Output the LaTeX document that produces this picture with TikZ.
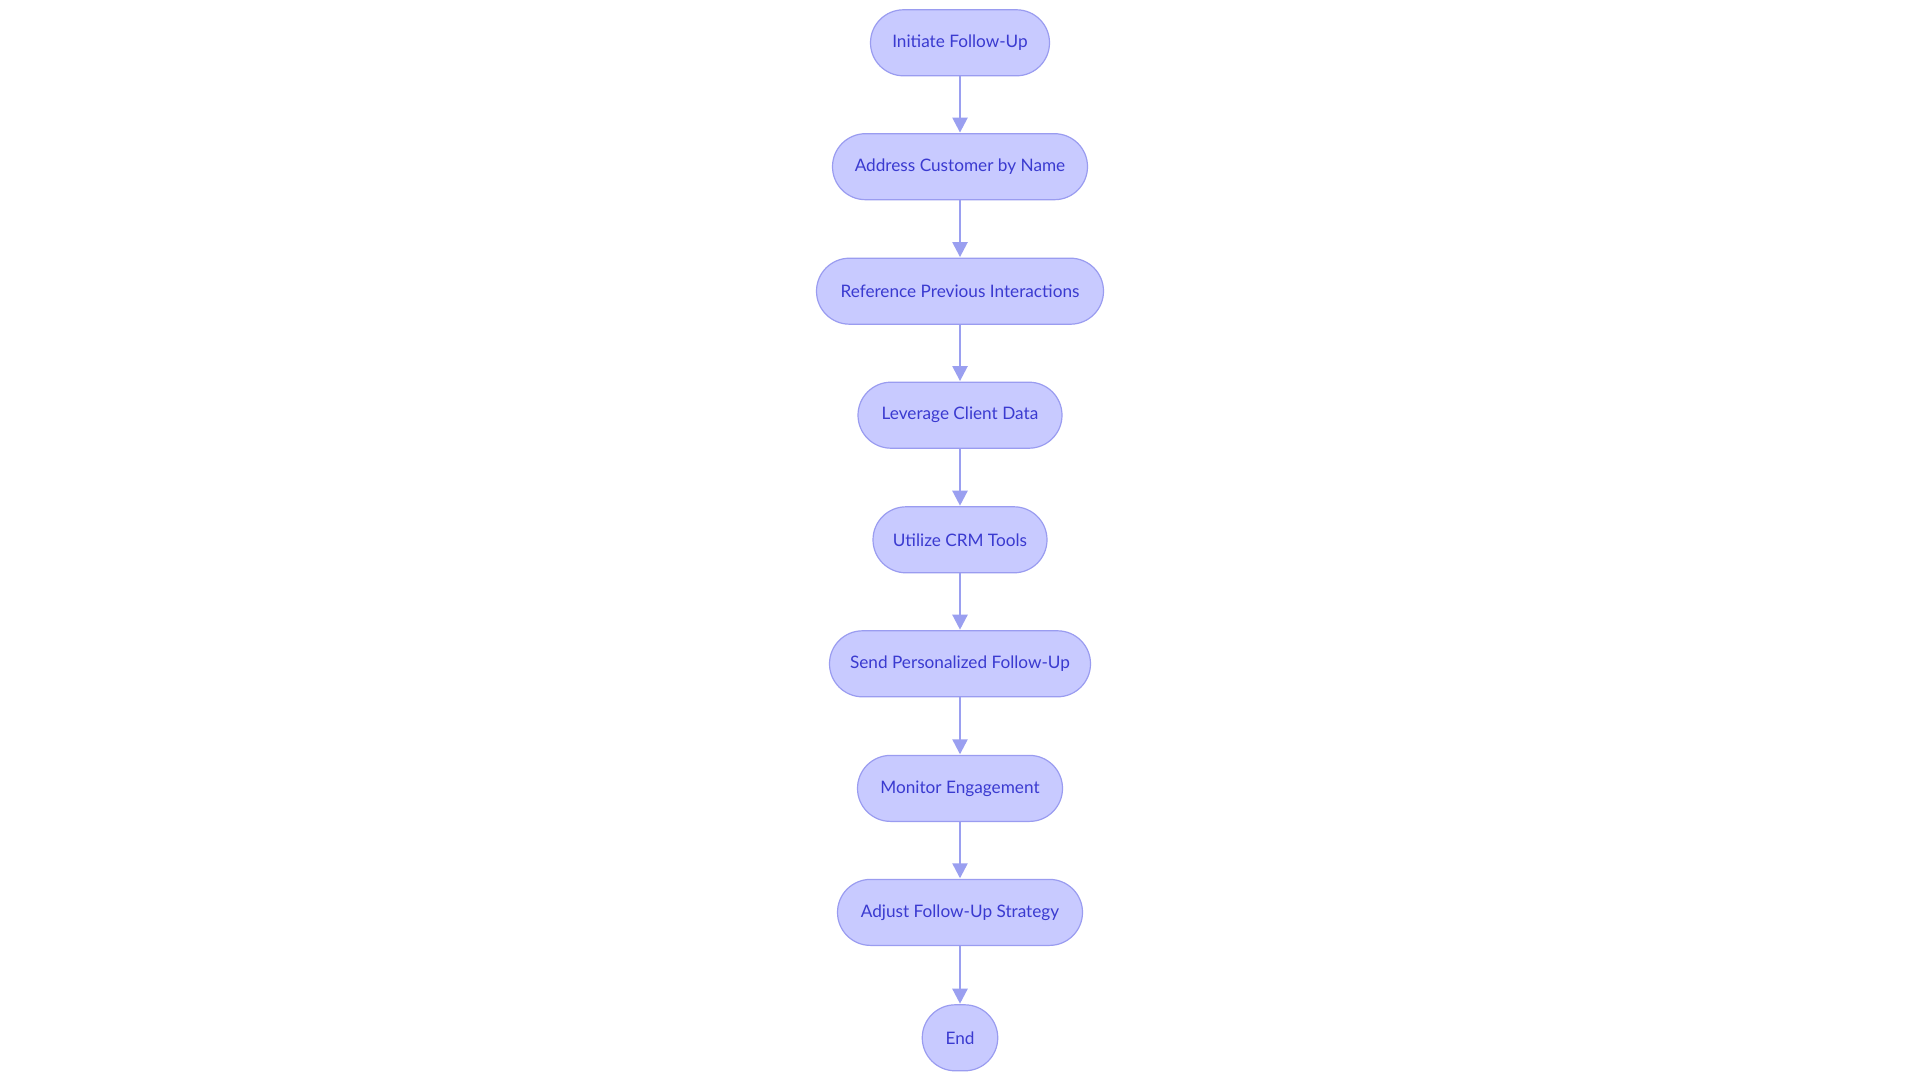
\documentclass[tikz,border=0pt]{standalone}
\usepackage{fontspec}
\setmainfont{Lato}
\usetikzlibrary{arrows.meta}
\definecolor{nodefill}{HTML}{C8CAFF}
\definecolor{nodedraw}{HTML}{9A9CF0}
\definecolor{nodetext}{HTML}{3A3AD0}
\definecolor{linkcol}{HTML}{9A9FF0}
\tikzset{
  flownode/.style={draw=nodedraw, line width=1.2pt, fill=nodefill, text=nodetext,
    rounded corners=33pt, minimum height=66pt, inner sep=0pt,
    font=\fontsize{17.2pt}{20pt}\selectfont},
  flowlink/.style={draw=linkcol, line width=2.4pt, -{Triangle[length=15pt,width=15pt]}, shorten >=0.5pt}
}
\begin{document}
\begin{tikzpicture}[x=1pt,y=-1pt]
\useasboundingbox (0,0) rectangle (1920,1083);
\fill[white] (0,0) rectangle (1920,1083);
\node[flownode, minimum width=179pt] (n1) at (960,42.8) {\raisebox{-1.2pt}{Initiate Follow-Up}};
\node[flownode, minimum width=255pt] (n2) at (960,166.7) {\raisebox{-1.2pt}{Address Customer by Name}};
\node[flownode, minimum width=287pt] (n3) at (960,291.2) {\raisebox{-1.2pt}{Reference Previous Interactions}};
\node[flownode, minimum width=204pt] (n4) at (960,415.2) {\raisebox{-1.2pt}{Leverage Client Data}};
\node[flownode, minimum width=174pt] (n5) at (960,539.8) {\raisebox{-1.2pt}{Utilize CRM Tools}};
\node[flownode, minimum width=261pt] (n6) at (960,663.8) {\raisebox{-1.2pt}{Send Personalized Follow-Up}};
\node[flownode, minimum width=205pt] (n7) at (960,788.4) {\raisebox{-1.2pt}{Monitor Engagement}};
\node[flownode, minimum width=245pt] (n8) at (960,912.4) {\raisebox{-1.2pt}{Adjust Follow-Up Strategy}};
\node[flownode, minimum width=75.5pt] (n9) at (960,1037.8) {\raisebox{-1.2pt}{End}};
\foreach \a/\b in {n1/n2,n2/n3,n3/n4,n4/n5,n5/n6,n6/n7,n7/n8,n8/n9}
  \draw[flowlink] (\a) -- (\b);
\end{tikzpicture}
\end{document}
